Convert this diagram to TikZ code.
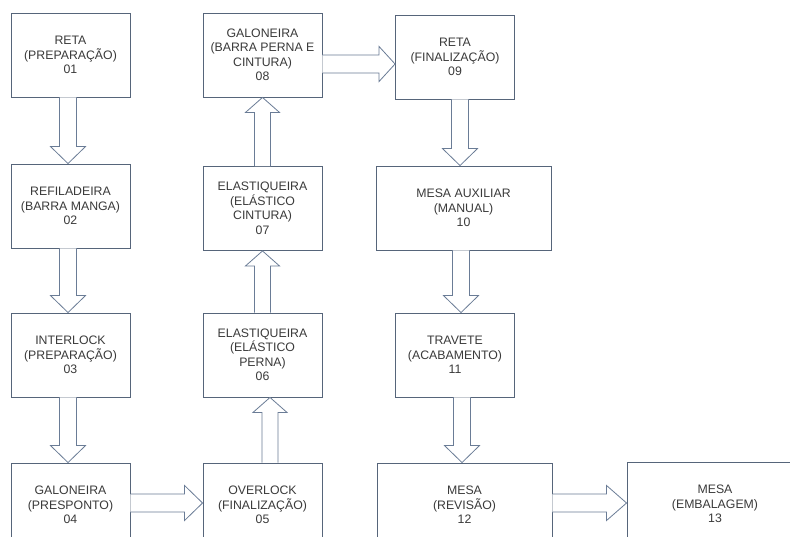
\documentclass[tikz,border=0pt]{standalone}
\usepackage{fontspec}
\setmainfont{Liberation Sans}
\usetikzlibrary{calc}
\definecolor{boxcol}{HTML}{56657A}
\definecolor{arrcol}{HTML}{6A7C96}
\definecolor{txtcol}{HTML}{3A3A3A}
\tikzset{
  stepbox/.style={draw=boxcol, line width=0.9pt, fill=white, minimum width=119pt, minimum height=84pt,
    align=center, text=txtcol, font=\fontsize{12.3}{14.5}\selectfont, inner sep=0pt},
  widebox/.style={stepbox, minimum width=175pt},
  blk/.style={draw=arrcol, line width=0.8pt, fill=white, line join=miter}
}
% down block arrow from #1 to #2 with x offset #3 (pt)
\newcommand\blkdown[3]{%
  \draw[blk] let \p1=(#1.south), \p2=(#2.north) in
    (\x1+#3pt-8.5pt,\y1) -- (\x1+#3pt-8.5pt,\y2+17pt) -- (\x1+#3pt-17.5pt,\y2+17pt) --
    (\x1+#3pt,\y2) -- (\x1+#3pt+17.5pt,\y2+17pt) -- (\x1+#3pt+8.5pt,\y2+17pt) -- (\x1+#3pt+8.5pt,\y1);}
% up block arrow from #1 to #2 with x offset #3 (pt)
\newcommand\blkup[3]{%
  \draw[blk] let \p1=(#1.north), \p2=(#2.south) in
    (\x1+#3pt-8pt,\y1) -- (\x1+#3pt-8pt,\y2-15pt) -- (\x1+#3pt-17pt,\y2-15pt) --
    (\x1+#3pt,\y2) -- (\x1+#3pt+17pt,\y2-15pt) -- (\x1+#3pt+8pt,\y2-15pt) -- (\x1+#3pt+8pt,\y1);}
% right block arrow from #1 to #2 with y offset #3 (pt, upward positive)
\newcommand\blkright[4]{%
  \draw[blk] let \p1=(#1.east), \p2=(#2.west) in
    (\x1,\y1+#3pt+9pt) -- (\x2-#4pt,\y1+#3pt+9pt) -- (\x2-#4pt,\y1+#3pt+17.5pt) --
    (\x2,\y1+#3pt) -- (\x2-#4pt,\y1+#3pt-17.5pt) -- (\x2-#4pt,\y1+#3pt-9pt) -- (\x1,\y1+#3pt-9pt);}
\begin{document}
\begin{tikzpicture}[x=1pt,y=-1pt]
\useasboundingbox (0,0) rectangle (790,537);
\clip (0,0) rectangle (790,537);
\fill[white] (0,0) rectangle (790,537);
\node[stepbox] (n01) at (70.5,55) {RETA\\(PREPARAÇÃO)\\01};
\node[stepbox] (n02) at (70.5,206) {REFILADEIRA\\(BARRA MANGA)\\02};
\node[stepbox] (n03) at (70.5,355) {INTERLOCK\\(PREPARAÇÃO)\\03};
\node[stepbox] (n04) at (70.5,505) {GALONEIRA\\(PRESPONTO)\\04};
\node[stepbox] (n05) at (262.5,505) {OVERLOCK\\(FINALIZAÇÃO)\\05};
\node[stepbox] (n06) at (262.5,355) {ELASTIQUEIRA\\(ELÁSTICO\\PERNA)\\06};
\node[stepbox] (n07) at (262.5,208.5) {ELASTIQUEIRA\\(ELÁSTICO\\CINTURA)\\07};
\node[stepbox] (n08) at (262.5,55) {GALONEIRA\\(BARRA PERNA E\\CINTURA)\\08};
\node[stepbox] (n09) at (455,57) {RETA\\(FINALIZAÇÃO)\\09};
\node[widebox] (n10) at (463.5,208) {MESA AUXILIAR\\(MANUAL)\\10};
\node[stepbox] (n11) at (455,355) {TRAVETE\\(ACABAMENTO)\\11};
\node[widebox] (n12) at (464.5,505) {MESA\\(REVISÃO)\\12};
\node[widebox, minimum width=176pt] (n13) at (715,504) {MESA\\(EMBALAGEM)\\13};
\blkdown{n01}{n02}{-2.5}
\blkdown{n02}{n03}{-2.5}
\blkdown{n03}{n04}{-2.5}
\blkright{n04}{n05}{2}{18}
\blkup{n05}{n06}{7.5}
\blkup{n06}{n07}{0}
\blkup{n07}{n08}{0}
\blkright{n08}{n09}{-9}{16}
\blkdown{n09}{n10}{5}
\blkdown{n10}{n11}{-2.5}
\blkdown{n11}{n12}{7}
\blkright{n12}{n13}{2}{20}
\end{tikzpicture}
\end{document}
